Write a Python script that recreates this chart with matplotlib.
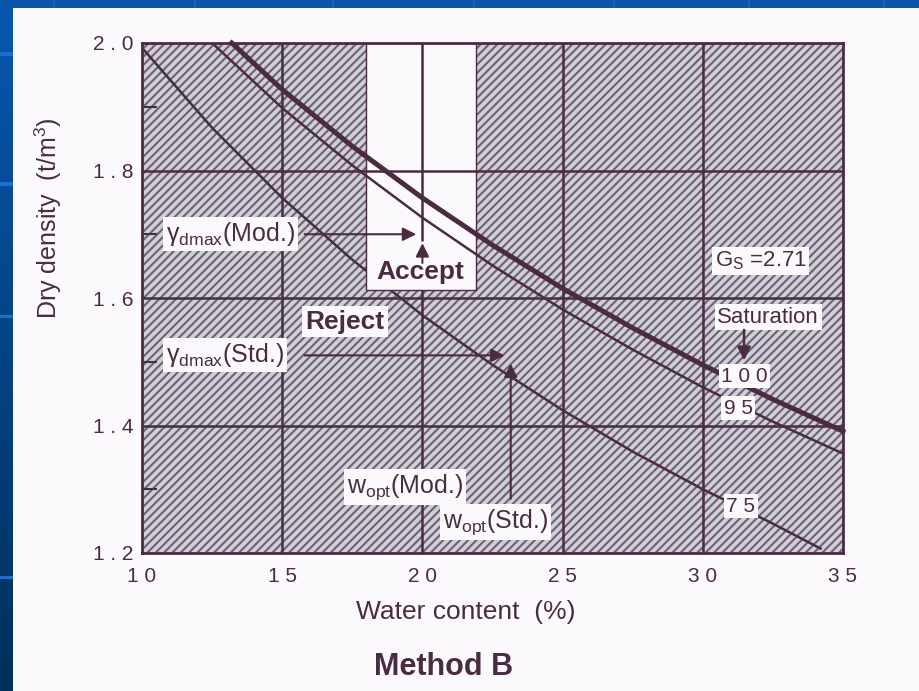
import numpy as np
import matplotlib.pyplot as plt
from matplotlib.patches import Rectangle
from matplotlib.colors import LinearSegmentedColormap

plt.rcParams['font.family'] = ['Liberation Sans', 'DejaVu Sans']
plt.rcParams['mathtext.fontset'] = 'custom'
plt.rcParams['mathtext.rm'] = 'Liberation Sans'
plt.rcParams['mathtext.it'] = 'Liberation Sans:italic'
plt.rcParams['mathtext.bf'] = 'Liberation Sans:bold'
plt.rcParams['hatch.linewidth'] = 1.5

INK = '#4a2c42'
PAPER = '#fcf9fc'

# Saturation lines for Gs = 2.71 : water content (%) vs dry density (t/m3)
w_s100 = [13.2, 15, 17.5, 20, 22.5, 25, 27.5, 30, 32.5, 35]
gd_s100 = [2.000, 1.927, 1.838, 1.757, 1.683, 1.615, 1.553, 1.495, 1.441, 1.391]
w_s95 = [12.5, 15, 17.5, 20, 22.5, 25, 27.5, 30, 32.5, 35]
gd_s95 = [2.000, 1.898, 1.808, 1.726, 1.651, 1.582, 1.519, 1.460, 1.406, 1.356]
w_s75 = [9.85, 12.5, 15, 17.5, 20, 22.5, 25, 27.5, 30, 32.5, 34.2]
gd_s75 = [2.000, 1.867, 1.757, 1.660, 1.573, 1.495, 1.424, 1.359, 1.300, 1.246, 1.207]

# compaction optimum points
w_opt_mod, gd_max_mod = 20.0, 1.70
w_opt_std, gd_max_std = 23.15, 1.51

# acceptance window
accept_w = [18.0, 21.9]
accept_gd = [1.612, 2.0]

xticks = [10, 15, 20, 25, 30, 35]
xtick_labels = ['1 0', '1 5', '2 0', '2 5', '3 0', '3 5']
yticks = [1.2, 1.4, 1.6, 1.8, 2.0]
ytick_labels = ['1 . 2', '1 . 4', '1 . 6', '1 . 8', '2 . 0']
yminor = [1.3, 1.5, 1.7, 1.9]

W, H = 920, 691
fig = plt.figure(figsize=(W / 100, H / 100), dpi=100, facecolor=PAPER)

# slide frame: blue gradient strip on the left, flat strip along the top
side = fig.add_axes([0, 0, 13 / W, 1])
grad = np.linspace(0, 1, 256).reshape(-1, 1)
side.imshow(grad, aspect='auto', extent=[0, 1, 0, 1], origin='upper',
            cmap=LinearSegmentedColormap.from_list('slide', ['#0857ae', '#00305c']))
side.axis('off')
for yy in [54, 184, 316, 577]:
    side.add_patch(Rectangle((0, 1 - (yy + 1.5) / H), 1, 3 / H, color='#1a6fd0', lw=0))
fig.add_artist(Rectangle((0, 1 - 8 / H), 1, 8 / H, transform=fig.transFigure,
                         color='#0855ab', lw=0))
for xx in [53, 194, 332, 473, 613, 748, 883]:
    fig.add_artist(Rectangle((xx / W, 1 - 8 / H), 2 / W, 8 / H, transform=fig.transFigure,
                             color='#1463be', lw=0))

ax = fig.add_axes([142 / W, 1 - 553 / H, 701 / W, 510 / H])
ax.set_xlim(10, 35)
ax.set_ylim(1.2, 2.0)

# hatched background of the chart
ax.add_patch(Rectangle((10, 1.2), 25, 0.8, facecolor='#d2ced7', edgecolor='#6a6373',
                       lw=0, hatch='////', zorder=0.5))

ax.plot(w_s75, gd_s75, color=INK, lw=1.8, zorder=1)

# accept window, cleared of hatching
ax.add_patch(Rectangle((accept_w[0], accept_gd[0]), accept_w[1] - accept_w[0],
                       accept_gd[1] - accept_gd[0], facecolor=PAPER, edgecolor=INK,
                       lw=1.0, zorder=1.5))

# grid; the 20 % line is broken where the "Accept" label sits
for xv in [15, 25, 30]:
    ax.axvline(xv, color=INK, lw=1.8, zorder=2)
ax.vlines([w_opt_mod, w_opt_mod], [1.2, gd_max_mod - 0.01], [accept_gd[0], 2.0],
          color=INK, lw=1.8, zorder=2)
for yv in yticks[1:-1]:
    ax.axhline(yv, color=INK, lw=1.8, zorder=2)

ax.plot(w_s95, gd_s95, color=INK, lw=1.8, zorder=3)
ax.plot(w_s100, gd_s100, color=INK, lw=3.6, zorder=3, clip_on=False)

ax.set_xticks(xticks)
ax.set_xticklabels(xtick_labels)
ax.set_yticks(yticks)
ax.set_yticklabels(ytick_labels)
ax.set_yticks(yminor, minor=True)
ax.tick_params(axis='both', which='major', length=0, labelsize=15, labelcolor=INK)
ax.tick_params(axis='x', pad=10)
ax.tick_params(axis='y', pad=6)
ax.tick_params(axis='y', which='minor', direction='in', length=11, width=1.5, color=INK)
for sp in ax.spines.values():
    sp.set_color(INK)
    sp.set_linewidth(2)
    sp.set_zorder(5)

box = dict(boxstyle='square,pad=0.12', fc=PAPER, ec='none')
head = dict(arrowstyle='-|>', color=INK, lw=1.5, mutation_scale=20, shrinkA=0, shrinkB=0)

# maximum dry density labels with arrows to the optimum points
ax.text(10.85, gd_max_mod, r'$\mathrm{\gamma}_{\mathrm{dmax}}$(Mod.)', fontsize=18,
        color=INK, ha='left', va='center', bbox=box, zorder=4)
ax.annotate('', xy=(w_opt_mod - 0.22, gd_max_mod), xytext=(15.8, gd_max_mod),
            arrowprops=head, zorder=3)
ax.annotate('', xy=(w_opt_mod, gd_max_mod - 0.014), xytext=(w_opt_mod, 1.655),
            arrowprops=head, zorder=3)

ax.text(10.85, gd_max_std, r'$\mathrm{\gamma}_{\mathrm{dmax}}$(Std.)', fontsize=18,
        color=INK, ha='left', va='center', bbox=box, zorder=4)
ax.annotate('', xy=(w_opt_std - 0.22, gd_max_std), xytext=(15.8, gd_max_std),
            arrowprops=head, zorder=3)
ax.annotate('', xy=(w_opt_std, gd_max_std - 0.013), xytext=(w_opt_std, 1.285),
            arrowprops=head, zorder=3)

ax.text(19.91, 1.641, 'Accept', fontsize=19, fontweight='bold', color=INK,
        ha='center', va='center', zorder=4)
ax.text(17.24, 1.563, 'Reject', fontsize=19, fontweight='bold', color=INK,
        ha='center', va='center', bbox=box, zorder=4)

ax.text(19.39, 1.303, r'w$_{\mathrm{opt}}$(Mod.)', fontsize=18, color=INK,
        ha='center', va='center', bbox=box, zorder=4)
ax.text(22.6, 1.249, r'w$_{\mathrm{opt}}$(Std.)', fontsize=18, color=INK,
        ha='center', va='center', bbox=box, zorder=4)

# saturation annotations
ax.text(32.06, 1.658, r'G$_{\mathrm{S}}$ =2.71', fontsize=16, color=INK,
        ha='center', va='center', bbox=box, zorder=4)
ax.text(32.33, 1.570, 'Saturation', fontsize=16, color=INK,
        ha='center', va='center', bbox=box, zorder=4)
ax.annotate('', xy=(31.47, 1.502), xytext=(31.47, 1.55),
            arrowprops=dict(arrowstyle='-|>', color=INK, lw=1.8, mutation_scale=20,
                            shrinkA=0, shrinkB=0), zorder=4)
ax.text(31.49, 1.477, '1 0 0', fontsize=15, color=INK, ha='center', va='center',
        bbox=box, zorder=4)
ax.text(31.27, 1.427, '9 5', fontsize=15, color=INK, ha='center', va='center',
        bbox=box, zorder=4)
ax.text(31.36, 1.273, '7 5', fontsize=15, color=INK, ha='center', va='center',
        bbox=box, zorder=4)

fig.text(48 / W, 1 - 218 / H, r'Dry density  (t/m$^3$)', rotation=90, fontsize=18,
         color=INK, ha='center', va='center')
fig.text(466 / W, 1 - 612 / H, 'Water content  (%)', fontsize=19, color=INK,
         ha='center', va='center')
fig.text(444 / W, 1 - 667 / H, 'Method B', fontsize=22, fontweight='bold', color=INK,
         ha='center', va='center')

fig.savefig('out.png', dpi=100, facecolor=PAPER)
